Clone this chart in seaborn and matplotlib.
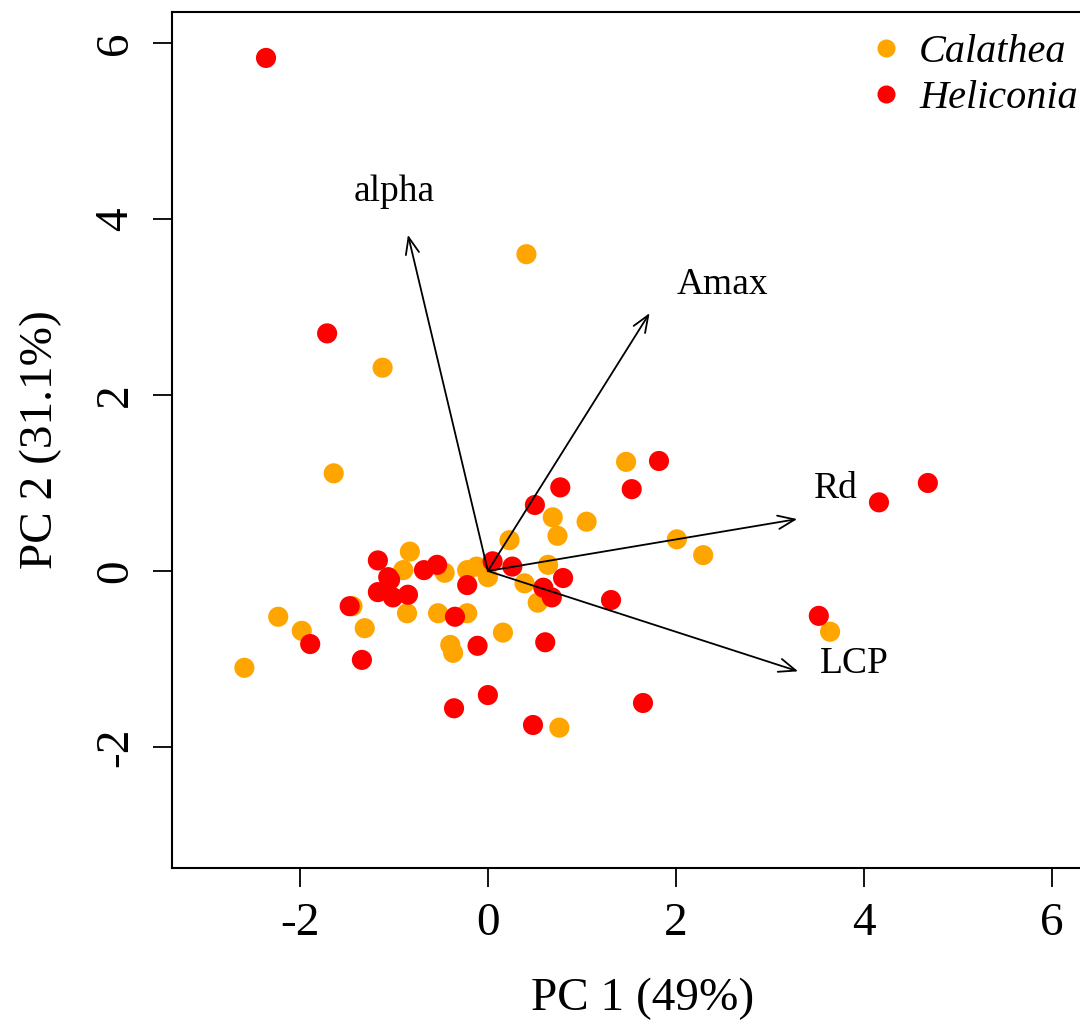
import numpy as np
import pandas as pd
import matplotlib
matplotlib.use("Agg")
import matplotlib.pyplot as plt
import seaborn as sns

# PCA scores for the two genera
calathea_pc1 = [0.41, -1.12, -1.64, 1.47, 0.69, 1.05, 0.74, 0.23, 2.01, 2.29,
                0.64, 0.39, 0.53, -0.83, -0.90, -0.86, -0.46, -0.22, -0.12, 0.00,
                -0.53, -0.22, 0.16, -0.40, -0.37, 0.76, -2.23, -1.98, -1.31, -2.59,
                3.64, -1.44]
calathea_pc2 = [3.60, 2.31, 1.11, 1.24, 0.61, 0.56, 0.40, 0.35, 0.36, 0.18,
                0.07, -0.14, -0.36, 0.22, 0.01, -0.48, -0.02, 0.01, 0.05, -0.07,
                -0.48, -0.48, -0.70, -0.84, -0.93, -1.78, -0.52, -0.68, -0.65, -1.10,
                -0.69, -0.40]

heliconia_pc1 = [-2.36, -1.71, 1.82, 1.53, 0.77, 0.50, 4.68, 4.16, 0.05, 0.26,
                 0.80, 0.59, 0.68, 1.31, 3.52, 0.61, 1.65, 0.48, 0.00, -0.36,
                 -0.11, -0.35, -0.22, -0.54, -0.68, -1.17, -1.06, -1.17, -1.01, -0.85,
                 -1.47, -1.34, -1.89, -1.04]
heliconia_pc2 = [5.83, 2.70, 1.25, 0.93, 0.95, 0.75, 1.00, 0.78, 0.11, 0.05,
                 -0.08, -0.19, -0.30, -0.33, -0.51, -0.81, -1.50, -1.75, -1.41, -1.56,
                 -0.85, -0.52, -0.16, 0.07, 0.01, 0.12, -0.07, -0.24, -0.30, -0.27,
                 -0.40, -1.01, -0.83, -0.10]

# Variable loadings (arrow tips) and label positions
loading_names = ["alpha", "Amax", "Rd", "LCP"]
loading_pc1 = [-0.85, 1.72, 3.29, 3.30]
loading_pc2 = [3.82, 2.93, 0.59, -1.14]
label_pc1 = [-1.00, 2.50, 3.70, 3.90]
label_pc2 = [4.31, 3.25, 0.94, -1.05]

genera = ["Calathea", "Heliconia"]
palette = {"Calathea": "#FFA500", "Heliconia": "#FF0000"}

df = pd.DataFrame({
    "PC1": calathea_pc1 + heliconia_pc1,
    "PC2": calathea_pc2 + heliconia_pc2,
    "Genus": ["Calathea"] * len(calathea_pc1) + ["Heliconia"] * len(heliconia_pc1),
})

sns.set_style("ticks")
plt.rcParams["font.family"] = ["Liberation Serif", "DejaVu Serif"]
plt.rcParams["axes.unicode_minus"] = False
plt.rcParams["text.color"] = "black"
plt.rcParams["axes.labelcolor"] = "black"
plt.rcParams["xtick.color"] = "black"
plt.rcParams["ytick.color"] = "black"

W, H = 1080, 1027
fig = plt.figure(figsize=(W / 100, H / 100), dpi=100)
left_px, right_px, top_px, bottom_px = 172, 1114, 12, 868
ax = fig.add_axes([left_px / W, (H - bottom_px) / H,
                   (right_px - left_px) / W, (bottom_px - top_px) / H])

sns.scatterplot(data=df, x="PC1", y="PC2", hue="Genus", hue_order=genera,
                palette=palette, s=210, linewidth=0, alpha=1, ax=ax, legend=False)

for name, x, y, lx, ly in zip(loading_names, loading_pc1, loading_pc2, label_pc1, label_pc2):
    ax.annotate("", xy=(x, y), xytext=(0, 0),
                arrowprops=dict(arrowstyle="->,head_length=0.55,head_width=0.22",
                                lw=1.3, color="black", shrinkA=0, shrinkB=0,
                                mutation_scale=22))
    ax.text(lx, ly, name, fontsize=27, ha="center", va="center", color="black")

ax.set_xlim(-3.36, 6.66)
ax.set_ylim(-3.375, 6.352)
ax.set_xticks([-2, 0, 2, 4, 6])
ax.set_yticks([-2, 0, 2, 4, 6])
ax.tick_params(axis="both", length=14, width=1.3, labelsize=34, pad=11,
               direction="out", colors="black")
for lbl in ax.get_yticklabels():
    lbl.set_rotation(90)
    lbl.set_va("center")

ax.set_xlabel("PC 1 (49%)", fontsize=34, color="black")
ax.set_ylabel("PC 2 (31.1%)", fontsize=34, color="black")
ax.xaxis.set_label_coords(0.5, -0.128)
ax.yaxis.set_label_coords(-0.117, 0.5)

for side in ["left", "bottom", "top", "right"]:
    ax.spines[side].set_linewidth(1.5)
    ax.spines[side].set_color("black")

handles = [plt.Line2D([], [], marker="o", linestyle="", markersize=13,
                      markerfacecolor=palette[g], markeredgewidth=0) for g in genera]
leg = ax.legend(handles, genera, loc="upper left", bbox_to_anchor=(866 / W, 1 - 34 / H),
                bbox_transform=fig.transFigure, frameon=False, borderpad=0, borderaxespad=0,
                handletextpad=0.32, handlelength=1.0, labelspacing=0.22,
                prop={"family": "Liberation Serif", "style": "italic", "size": 29})
for t in leg.get_texts():
    t.set_color("black")

fig.savefig("out.png", dpi=100)
